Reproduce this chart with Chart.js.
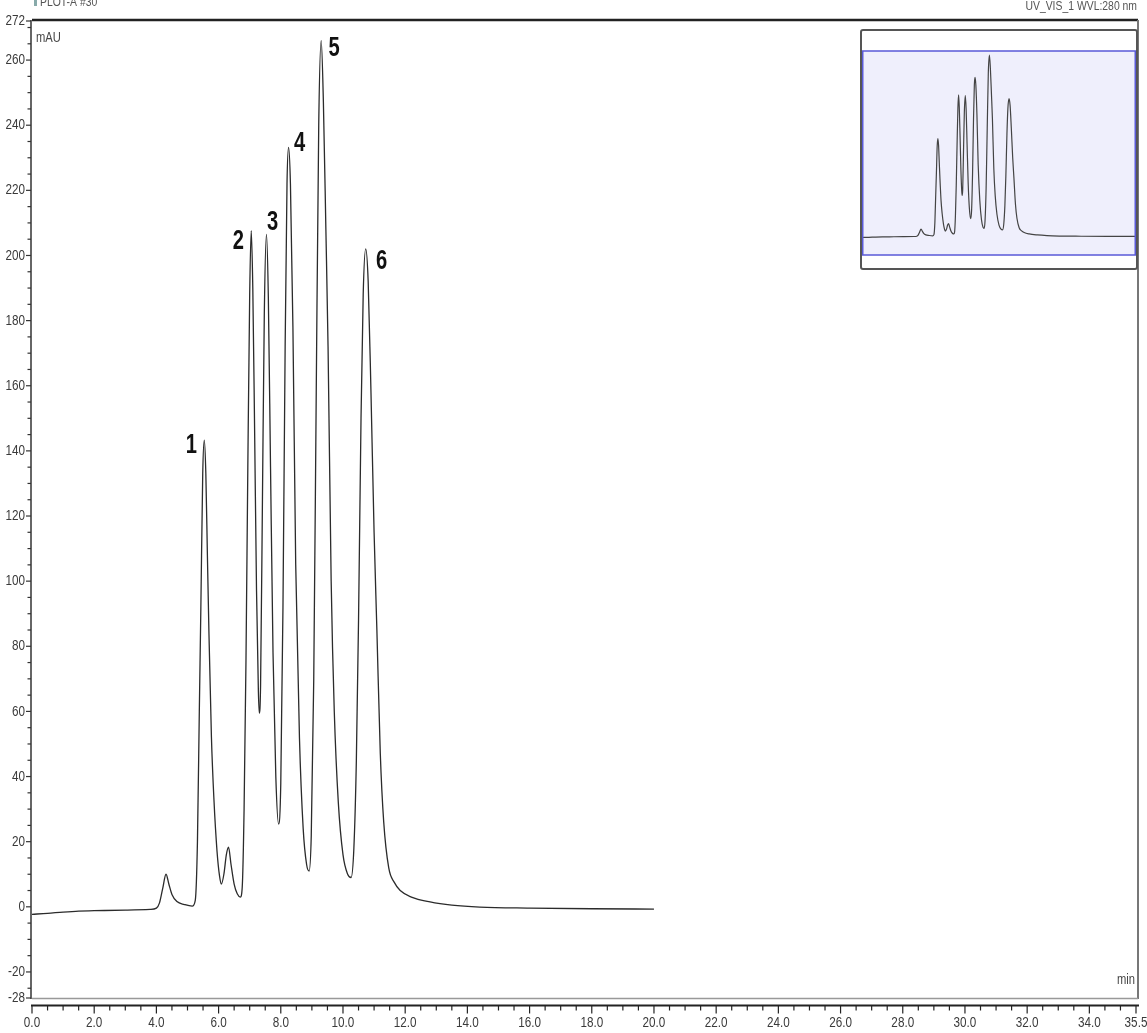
<!DOCTYPE html>
<html>
<head>
<meta charset="utf-8">
<script src="https://cdn.jsdelivr.net/npm/chart.js@4.4.0/dist/chart.umd.min.js"></script>
<style>
  html, body { margin: 0; padding: 0; background: #fff; }
  #wrap { position: relative; width: 1147px; height: 1033px; overflow: hidden; }
  #mainChart { position: absolute; left: 0; top: 0; }
  #insetBox { position: absolute; left: 860px; top: 29px; width: 278px; height: 241px; box-sizing: border-box;
              border: 2px solid #555; border-radius: 3px; background: #fff; }
  #insetChart { position: absolute; left: 0; top: 0; }
</style>
</head>
<body>
<div id="wrap">
  <canvas id="mainChart" width="1147" height="1033"></canvas>
  <div id="insetBox"><canvas id="insetChart" width="274" height="237"></canvas></div>
</div>
<script>
// Chromatogram trace (min, mAU)
const times = [0, 0.5, 1.0, 1.5, 2.0, 3.0, 3.8, 4.0, 4.1, 4.2, 4.31, 4.4, 4.5, 4.66, 4.9, 5.15, 5.25, 5.32, 5.38, 5.43,
  5.49, 5.54, 5.59, 5.64, 5.69, 5.77, 5.85, 5.95, 6.03, 6.09, 6.17, 6.25, 6.32, 6.40, 6.50, 6.60, 6.70, 6.76, 6.82, 6.88,
  6.94, 7.00, 7.05, 7.10, 7.16, 7.22, 7.28, 7.31, 7.35, 7.41, 7.47, 7.54, 7.60, 7.67, 7.75, 7.84, 7.93, 8.00, 8.07, 8.14,
  8.20, 8.25, 8.31, 8.39, 8.48, 8.60, 8.72, 8.83, 8.91, 8.98, 9.06, 9.14, 9.22, 9.30, 9.37, 9.45, 9.52, 9.62, 9.72, 9.85,
  10.00, 10.15, 10.26, 10.35, 10.43, 10.50, 10.58, 10.65, 10.73, 10.81, 10.90, 11.00, 11.09, 11.20, 11.31, 11.47, 11.65,
  11.84, 12.2, 12.8, 13.5, 14.4, 16.0, 18.0, 20.0];
const signal = [-2.3, -2.0, -1.6, -1.3, -1.2, -1.0, -0.8, -0.4, 1.2, 5.5, 10.0, 7.0, 3.8, 1.6, 0.7, 0.2, 2.0, 20, 60, 92,
  133, 143.3, 133, 108, 84, 52, 33, 17, 9.5, 7, 10, 16, 18.3, 13, 7, 4, 3, 6, 30, 75,
  135, 188, 207.6, 190, 145, 97, 66, 59.5, 68, 125, 182, 206.5, 187, 135, 78, 40, 25.4, 38, 92, 172,
  222, 233.2, 222, 178, 105, 52, 24, 13, 11, 22, 70, 158, 240, 266, 247, 208, 172, 100, 60, 32,
  16, 10, 9, 18, 45, 88, 150, 188, 202, 192, 158, 115, 85, 47, 26, 12, 7.5,
  5, 3, 1.5, 0.5, -0.1, -0.4, -0.6, -0.7];

// peak numbering
const peakNames = ['1', '2', '3', '4', '5', '6'];
const peakTimes = [5.54, 7.05, 7.54, 8.25, 9.30, 10.73];

// tick labels
const xTickValues = [0, 2, 4, 6, 8, 10, 12, 14, 16, 18, 20, 22, 24, 26, 28, 30, 32, 34, 35.5];
const yTickValues = [-28, -20, 0, 20, 40, 60, 80, 100, 120, 140, 160, 180, 200, 220, 240, 260, 272];

const points = times.map((t, i) => ({ x: t, y: signal[i] }));

// pixel offsets of the peak numbers from the apex (style only)
const labelOffsets = [[-13, 5], [-13, 11], [6, -12], [11, -4], [13, 8], [16, 12]];

// draw text squeezed horizontally, the original uses a narrow font
function narrowText(ctx, text, x, y, squeeze) {
  ctx.save();
  ctx.translate(x, y);
  ctx.scale(squeeze, 1);
  ctx.fillText(text, 0, 0);
  ctx.restore();
}

const framePlugin = {
  id: 'frame',
  afterDraw(chart) {
    const ctx = chart.ctx;
    const area = chart.chartArea;
    const xs = chart.scales.x;
    const ys = chart.scales.y;
    ctx.save();

    // plot frame
    ctx.strokeStyle = '#222';
    ctx.lineWidth = 2.5;
    ctx.beginPath(); ctx.moveTo(area.left, area.top - 1); ctx.lineTo(area.right + 2, area.top - 1); ctx.stroke();
    ctx.strokeStyle = '#777';
    ctx.lineWidth = 2;
    ctx.beginPath(); ctx.moveTo(area.right + 2, area.top - 1); ctx.lineTo(area.right + 2, area.bottom + 1); ctx.stroke();
    ctx.strokeStyle = '#999';
    ctx.lineWidth = 1.5;
    ctx.beginPath(); ctx.moveTo(area.left, area.bottom + 0.5); ctx.lineTo(area.right + 2, area.bottom + 0.5); ctx.stroke();
    ctx.strokeStyle = '#333';
    ctx.lineWidth = 1.5;
    ctx.beginPath(); ctx.moveTo(area.left - 1, area.top - 1); ctx.lineTo(area.left - 1, area.bottom + 1); ctx.stroke();

    // y ticks (minor every 5)
    ctx.strokeStyle = '#333';
    ctx.lineWidth = 1.2;
    for (let v = -25; v <= 270; v += 5) {
      const py = ys.getPixelForValue(v);
      const len = v % 20 === 0 ? 5 : 3.5;
      ctx.beginPath(); ctx.moveTo(area.left - 1, py); ctx.lineTo(area.left - 1 - len, py); ctx.stroke();
    }
    [-28, 272].forEach(v => {
      const py = ys.getPixelForValue(v);
      ctx.beginPath(); ctx.moveTo(area.left - 1, py); ctx.lineTo(area.left - 6, py); ctx.stroke();
    });

    // x axis line below the plot, ticks every 0.5
    const axY = area.bottom + 7.5;
    ctx.strokeStyle = '#222';
    ctx.lineWidth = 2;
    ctx.beginPath(); ctx.moveTo(area.left - 1, axY); ctx.lineTo(area.right + 3, axY); ctx.stroke();
    ctx.lineWidth = 1.2;
    for (let v = 0; v <= 35.5; v += 0.5) {
      const px = xs.getPixelForValue(v);
      const len = (v % 2 === 0 || v === 35.5) ? 8 : 5;
      ctx.beginPath(); ctx.moveTo(px, axY); ctx.lineTo(px, axY + len); ctx.stroke();
    }

    // tick labels
    ctx.fillStyle = '#3a3a3a';
    ctx.font = '15px "Liberation Sans", Arial, sans-serif';
    ctx.textBaseline = 'middle';
    ctx.textAlign = 'right';
    yTickValues.forEach(v => {
      narrowText(ctx, String(v), area.left - 7, ys.getPixelForValue(v), 0.78);
    });
    ctx.textAlign = 'center';
    xTickValues.forEach(v => {
      narrowText(ctx, v.toFixed(1), xs.getPixelForValue(v), area.bottom + 25, 0.78);
    });

    // peak numbers
    ctx.fillStyle = '#111';
    ctx.font = 'bold 28px "Liberation Sans", Arial, sans-serif';
    ctx.textAlign = 'center';
    ctx.textBaseline = 'middle';
    peakNames.forEach((name, i) => {
      const idx = times.indexOf(peakTimes[i]);
      const px = xs.getPixelForValue(times[idx]);
      const py = ys.getPixelForValue(signal[idx]);
      narrowText(ctx, name, px + labelOffsets[i][0], py + labelOffsets[i][1], 0.72);
    });

    // unit labels and header
    ctx.fillStyle = '#444';
    ctx.font = '14px "Liberation Sans", Arial, sans-serif';
    ctx.textBaseline = 'alphabetic';
    ctx.textAlign = 'left';
    narrowText(ctx, 'mAU', area.left + 4, area.top + 21, 0.8);
    ctx.textAlign = 'right';
    narrowText(ctx, 'min', area.right - 1, area.bottom - 14, 0.8);
    ctx.font = '13px "Liberation Sans", Arial, sans-serif';
    ctx.fillStyle = '#555';
    narrowText(ctx, 'UV_VIS_1 WVL:280 nm', area.right + 1, 10, 0.8);
    ctx.textAlign = 'left';
    narrowText(ctx, 'PLOT-A #30', area.left + 8, 6, 0.8);
    ctx.fillStyle = '#8aa';
    ctx.fillRect(area.left + 2, 0, 3, 6);
    ctx.restore();
  }
};

new Chart(document.getElementById('mainChart').getContext('2d'), {
  type: 'line',
  data: {
    datasets: [{
      data: points,
      borderColor: '#2b2b2b',
      borderWidth: 1.3,
      pointRadius: 0,
      fill: false,
      cubicInterpolationMode: 'monotone'
    }]
  },
  options: {
    responsive: false,
    animation: false,
    devicePixelRatio: 1,
    layout: { padding: { top: 21, right: 11, left: 0, bottom: 0 } },
    plugins: { legend: { display: false }, tooltip: { enabled: false } },
    scales: {
      x: {
        type: 'linear',
        min: 0,
        max: 35.5,
        afterFit: scale => {
          scale.height = 35;
          scale.paddingLeft = 0; scale.paddingRight = 0;
        },
        grid: { display: false, drawTicks: false },
        border: { display: false },
        ticks: { display: false }
      },
      y: {
        type: 'linear',
        min: -28,
        max: 272,
        afterFit: scale => {
          scale.width = 32;
          scale.paddingTop = 0; scale.paddingBottom = 0;
        },
        grid: { display: false, drawTicks: false },
        border: { display: false },
        ticks: { display: false }
      }
    }
  },
  plugins: [framePlugin]
});

// inset overview
const insetPlugin = {
  id: 'insetBg',
  beforeDraw(chart) {
    const a = chart.chartArea;
    const ctx = chart.ctx;
    ctx.save();
    ctx.fillStyle = '#efeffc';
    ctx.fillRect(a.left, a.top, a.right - a.left, a.bottom - a.top);
    ctx.restore();
  },
  afterDraw(chart) {
    const a = chart.chartArea;
    const ctx = chart.ctx;
    ctx.save();
    ctx.strokeStyle = '#5a5ad8';
    ctx.lineWidth = 1.5;
    ctx.strokeRect(a.left + 0.75, a.top, a.right - a.left - 1.5, a.bottom - a.top);
    ctx.restore();
  }
};

new Chart(document.getElementById('insetChart').getContext('2d'), {
  type: 'line',
  data: {
    datasets: [{
      data: points,
      borderColor: '#444',
      borderWidth: 1.2,
      pointRadius: 0,
      fill: false,
      cubicInterpolationMode: 'monotone'
    }]
  },
  options: {
    responsive: false,
    animation: false,
    devicePixelRatio: 1,
    layout: { padding: { top: 20, right: 0, left: 0, bottom: 13 } },
    plugins: { legend: { display: false }, tooltip: { enabled: false } },
    scales: {
      x: { type: 'linear', min: 0, max: 20, display: false },
      y: { type: 'linear', min: -28, max: 272, display: false }
    }
  },
  plugins: [insetPlugin]
});
</script>
</body>
</html>
